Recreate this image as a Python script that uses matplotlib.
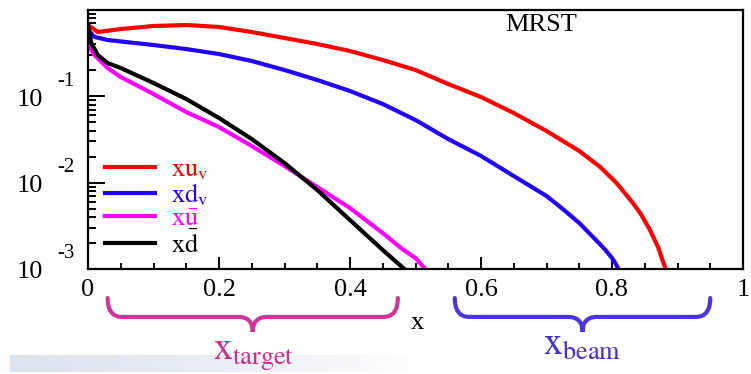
import numpy as np
import matplotlib
matplotlib.use("Agg")
import matplotlib.pyplot as plt
from matplotlib.path import Path
from matplotlib.patches import PathPatch
from matplotlib import transforms
from matplotlib.ticker import FixedLocator, FixedFormatter, LogLocator, NullFormatter

plt.rcParams['font.family'] = ['Liberation Serif', 'DejaVu Serif']
plt.rcParams['mathtext.fontset'] = 'stix'

# parton distributions (MRST)
x_uv = [0.0, 0.015, 0.05, 0.1, 0.15, 0.2, 0.25, 0.3, 0.35, 0.4, 0.45, 0.5, 0.55,
        0.6, 0.65, 0.7, 0.75, 0.782, 0.807, 0.832, 0.845, 0.858, 0.871, 0.876, 0.882]
xuv = [0.670, 0.556, 0.602, 0.653, 0.670, 0.636, 0.556, 0.474, 0.404, 0.335, 0.2635,
       0.2018, 0.139, 0.0982, 0.0641, 0.0397, 0.0233, 0.01519, 0.00991, 0.00581,
       0.00422, 0.00283, 0.00175, 0.00134, 0.001]

x_dv = [0.0, 0.01, 0.03, 0.1, 0.15, 0.2, 0.25, 0.3, 0.35, 0.4, 0.45, 0.5, 0.55,
        0.6, 0.65, 0.7, 0.725, 0.75, 0.765, 0.78, 0.79, 0.8, 0.805, 0.81]
xdv = [0.587, 0.487, 0.449, 0.393, 0.353, 0.309, 0.2566, 0.2018, 0.1546, 0.1153,
       0.0815, 0.0532, 0.0320, 0.0204, 0.01194, 0.00701, 0.00495, 0.00341, 0.00261,
       0.0020, 0.00166, 0.00134, 0.00117, 0.001]

x_ubar = [0.0, 0.005, 0.01, 0.03, 0.05, 0.1, 0.15, 0.2, 0.25, 0.3, 0.35, 0.4, 0.45,
          0.48, 0.5, 0.515]
xubar = [0.513, 0.344, 0.301, 0.2129, 0.1675, 0.1064, 0.0658, 0.0441, 0.0266,
         0.0156, 0.0089, 0.00509, 0.00261, 0.0017, 0.00134, 0.001]

x_dbar = [0.0, 0.005, 0.015, 0.03, 0.05, 0.1, 0.15, 0.2, 0.25, 0.3, 0.35, 0.4,
          0.45, 0.483]
xdbar = [0.670, 0.415, 0.301, 0.2432, 0.2129, 0.1427, 0.0931, 0.0561, 0.0320,
         0.01689, 0.00822, 0.00369, 0.00166, 0.001]

labels = [r'$\mathrm{xu_v}$', r'$\mathrm{xd_v}$', r'$\mathrm{x\bar{u}}$', r'$\mathrm{x\bar{d}}$']
colors = ['#ff0000', '#2200ff', '#ff00ff', '#000000']

x_ticks = [0, 0.2, 0.4, 0.6, 0.8, 1.0]
x_ticklabels = ['0', '0.2', '0.4', '0.6', '0.8', '1']
y_decades = [1e-3, 1e-2, 1e-1]
y_exponents = ['-3', '-2', '-1']

target_range = [0.03, 0.473]
beam_range = [0.56, 0.95]

fig = plt.figure(figsize=(7.51, 3.74), dpi=100)
ax = fig.add_axes([88 / 751, 1 - 269 / 374, 655 / 751, 259 / 374])

series = [(x_uv, xuv), (x_dv, xdv), (x_ubar, xubar), (x_dbar, xdbar)]
handles = []
for (xs, ys), c, lab in zip(series, colors, labels):
    ln, = ax.plot(xs, ys, color=c, lw=3, label=lab, solid_joinstyle='round')
    handles.append(ln)

ax.set_yscale('log')
ax.set_xlim(0, 1)
ax.set_ylim(1e-3, 1)

for s in ax.spines.values():
    s.set_linewidth(1.6)

ax.xaxis.set_major_locator(FixedLocator(x_ticks))
ax.xaxis.set_major_formatter(FixedFormatter(x_ticklabels))
ax.xaxis.set_minor_locator(FixedLocator(np.arange(0.05, 1.0, 0.05)))
ax.yaxis.set_major_locator(LogLocator(base=10, numticks=10))
ax.yaxis.set_minor_locator(LogLocator(base=10, subs=np.arange(2, 10), numticks=20))
ax.yaxis.set_major_formatter(NullFormatter())
ax.yaxis.set_minor_formatter(NullFormatter())

ax.tick_params(axis='x', which='major', direction='in', length=8.6, width=1.4,
               labelsize=19, pad=7, top=False)
ax.tick_params(axis='x', which='minor', direction='in', length=4.3, width=1.4, top=False)
ax.tick_params(axis='y', which='major', direction='in', length=12, width=1.4, right=False)
ax.tick_params(axis='y', which='minor', direction='in', length=5.8, width=1.4, right=False)

# ROOT style y labels: "10" with a detached exponent
for v, e in zip(y_decades, y_exponents):
    ax.annotate('10', xy=(0, v), xycoords=('axes fraction', 'data'),
                xytext=(-32.4, -6.8), textcoords='offset points',
                ha='right', va='baseline', fontsize=19, annotation_clip=False)
    ax.annotate(e, xy=(0, v), xycoords=('axes fraction', 'data'),
                xytext=(-15.8, 7.6), textcoords='offset points',
                ha='center', va='baseline', fontsize=15, annotation_clip=False)

ax.set_xlabel('x', fontsize=19, va='center')
ax.xaxis.set_label_coords((417 - 88) / 655, (269 - 323) / 259)

ax.text(0.637, 0.919, 'MRST', transform=ax.transAxes, fontsize=19,
        ha='left', va='baseline')

ax.legend(handles=handles, loc='upper left', bbox_to_anchor=(0.026, 0.43),
          frameon=False, fontsize=19, handlelength=1.9, handletextpad=0.6,
          labelspacing=-0.02, borderpad=0, borderaxespad=0, labelcolor='linecolor')

# braces under the x axis
trans = transforms.blended_transform_factory(ax.transData, ax.transAxes)


def brace(x0, x1, color):
    top, bar, tip = -0.112, -0.185, -0.243
    r = 0.022
    xc = 0.5 * (x0 + x1)
    verts = [(x0, top), (x0, bar), (x0 + r, bar),
             (xc - r, bar),
             (xc, bar), (xc, tip),
             (xc, bar), (xc + r, bar),
             (x1 - r, bar),
             (x1, bar), (x1, top)]
    codes = [Path.MOVETO, Path.CURVE3, Path.CURVE3,
             Path.LINETO,
             Path.CURVE3, Path.CURVE3,
             Path.CURVE3, Path.CURVE3,
             Path.LINETO,
             Path.CURVE3, Path.CURVE3]
    p = PathPatch(Path(verts, codes), transform=trans, fill=False,
                  edgecolor=color, lw=3, clip_on=False, capstyle='round')
    ax.add_patch(p)


brace(target_range[0], target_range[1], '#d0349a')
brace(beam_range[0], beam_range[1], '#4a35e6')

ax.text(0.253, -0.352, r'$\mathrm{x}_{\mathrm{target}}$', transform=trans,
        color='#c8308f', fontsize=27, ha='center', va='baseline', clip_on=False)
ax.text(0.754, -0.333, r'$\mathrm{x}_{\mathrm{beam}}$', transform=trans,
        color='#4a2fd0', fontsize=27, ha='center', va='baseline', clip_on=False)

# faint slide band at bottom left
bg = fig.add_axes([10 / 751, 2 / 374, 420 / 751, 17 / 374], zorder=-1)
grad = np.linspace(0, 1, 256)
rgba = np.ones((1, 256, 4))
base = np.array([0.86, 0.89, 0.93])
for i in range(3):
    rgba[0, :, i] = base[i] + (1 - base[i]) * grad ** 1.3
bg.imshow(rgba, aspect='auto', extent=(0, 1, 0, 1))
bg.set_axis_off()

fig.savefig('out.png', dpi=100)
